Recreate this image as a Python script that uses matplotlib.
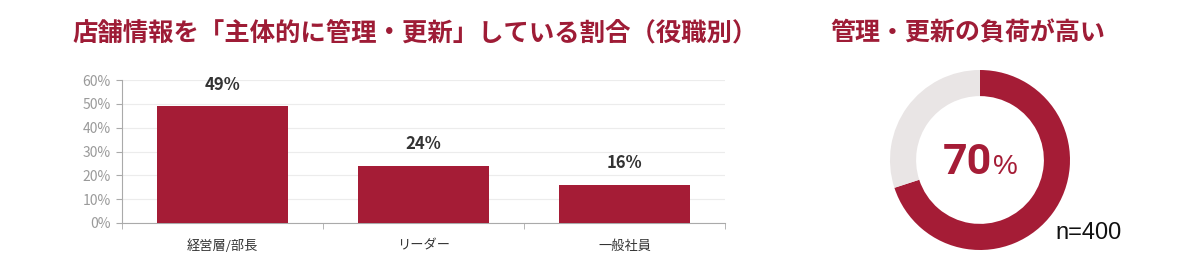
import matplotlib
matplotlib.use('Agg')
import matplotlib.pyplot as plt
import numpy as np

plt.rcParams['font.family'] = ['Noto Sans CJK JP', 'DejaVu Sans']

# data
roles = ['経営層/部長', 'リーダー', '一般社員']
share = [0.49, 0.24, 0.16]
yticks = [0, 0.1, 0.2, 0.3, 0.4, 0.5, 0.6]
burden = [70, 30]
n_label = 'n=400'

title_bar = '店舗情報を「主体的に管理・更新」している割合（役職別）'
title_donut = '管理・更新の負荷が高い'

red = '#A51C36'
title_red = '#9E1C36'
light = '#E9E5E5'

fig = plt.figure(figsize=(12, 2.7), dpi=100)
fig.patch.set_facecolor('white')

# bar chart
ax = fig.add_axes([122 / 1200, 1 - 223 / 270, 603 / 1200, 143 / 270])
x = np.arange(len(roles))
ax.bar(x, share, width=0.65, color=red, zorder=3)
ax.set_xlim(-0.5, len(roles) - 0.5)
ax.set_ylim(0, 0.6)
ax.set_yticks(yticks)
ax.set_yticklabels([f'{int(round(v * 100))}%' for v in yticks], color='#9a9a9a', fontsize=10)
ax.yaxis.grid(True, color='#ececec', lw=0.8, zorder=0)
ax.set_xticks(x)
ax.set_xticklabels(roles, fontsize=9.5, color='#333333')
ax.tick_params(axis='x', length=0, pad=12)
ax.set_xticks(np.arange(-0.5, len(roles), 1), minor=True)
ax.tick_params(axis='x', which='minor', length=4, color='#aaaaaa', direction='out')
ax.tick_params(axis='y', length=4, color='#aaaaaa', pad=4)
for s in ['top', 'right']:
    ax.spines[s].set_visible(False)
ax.spines['left'].set_color('#aaaaaa')
ax.spines['bottom'].set_color('#aaaaaa')
for xi, v in zip(x, share):
    ax.annotate(f'{int(round(v * 100))}%', (xi, v), xytext=(0, 9), textcoords='offset points',
                ha='center', va='bottom', fontsize=12, fontweight='bold', color='#333333')

fig.text(72 / 1200, 1 - 33 / 270, title_bar, fontsize=18.3, fontweight='bold',
         color=title_red, ha='left', va='center')

# donut
ax2 = fig.add_axes([(980 - 90) / 1200, 1 - 250 / 270, 180 / 1200, 180 / 270])
ax2.pie(burden, colors=[red, light], startangle=90, counterclock=False,
        radius=1, wedgeprops=dict(width=0.29, edgecolor='white', linewidth=0))
ax2.set_xlim(-1, 1)
ax2.set_ylim(-1, 1)
ax2.set_aspect('equal')
ax2.axis('off')
ax2.text(0.135, -0.15, f'{burden[0]}', fontsize=31, fontweight='bold', color=red,
         ha='right', va='baseline', family='Roboto')
ax2.text(0.15, -0.15, '%', fontsize=20, fontweight='normal', color=red,
         ha='left', va='baseline', family='Liberation Sans')

fig.text(1055 / 1200, 1 - 233 / 270, n_label, fontsize=17, color='#111111',
         ha='left', va='center', family='Liberation Sans')
fig.text(830 / 1200, 1 - 33 / 270, title_donut, fontsize=18, fontweight='bold',
         color=title_red, ha='left', va='center')

fig.savefig('out.png', dpi=100, facecolor='white')
